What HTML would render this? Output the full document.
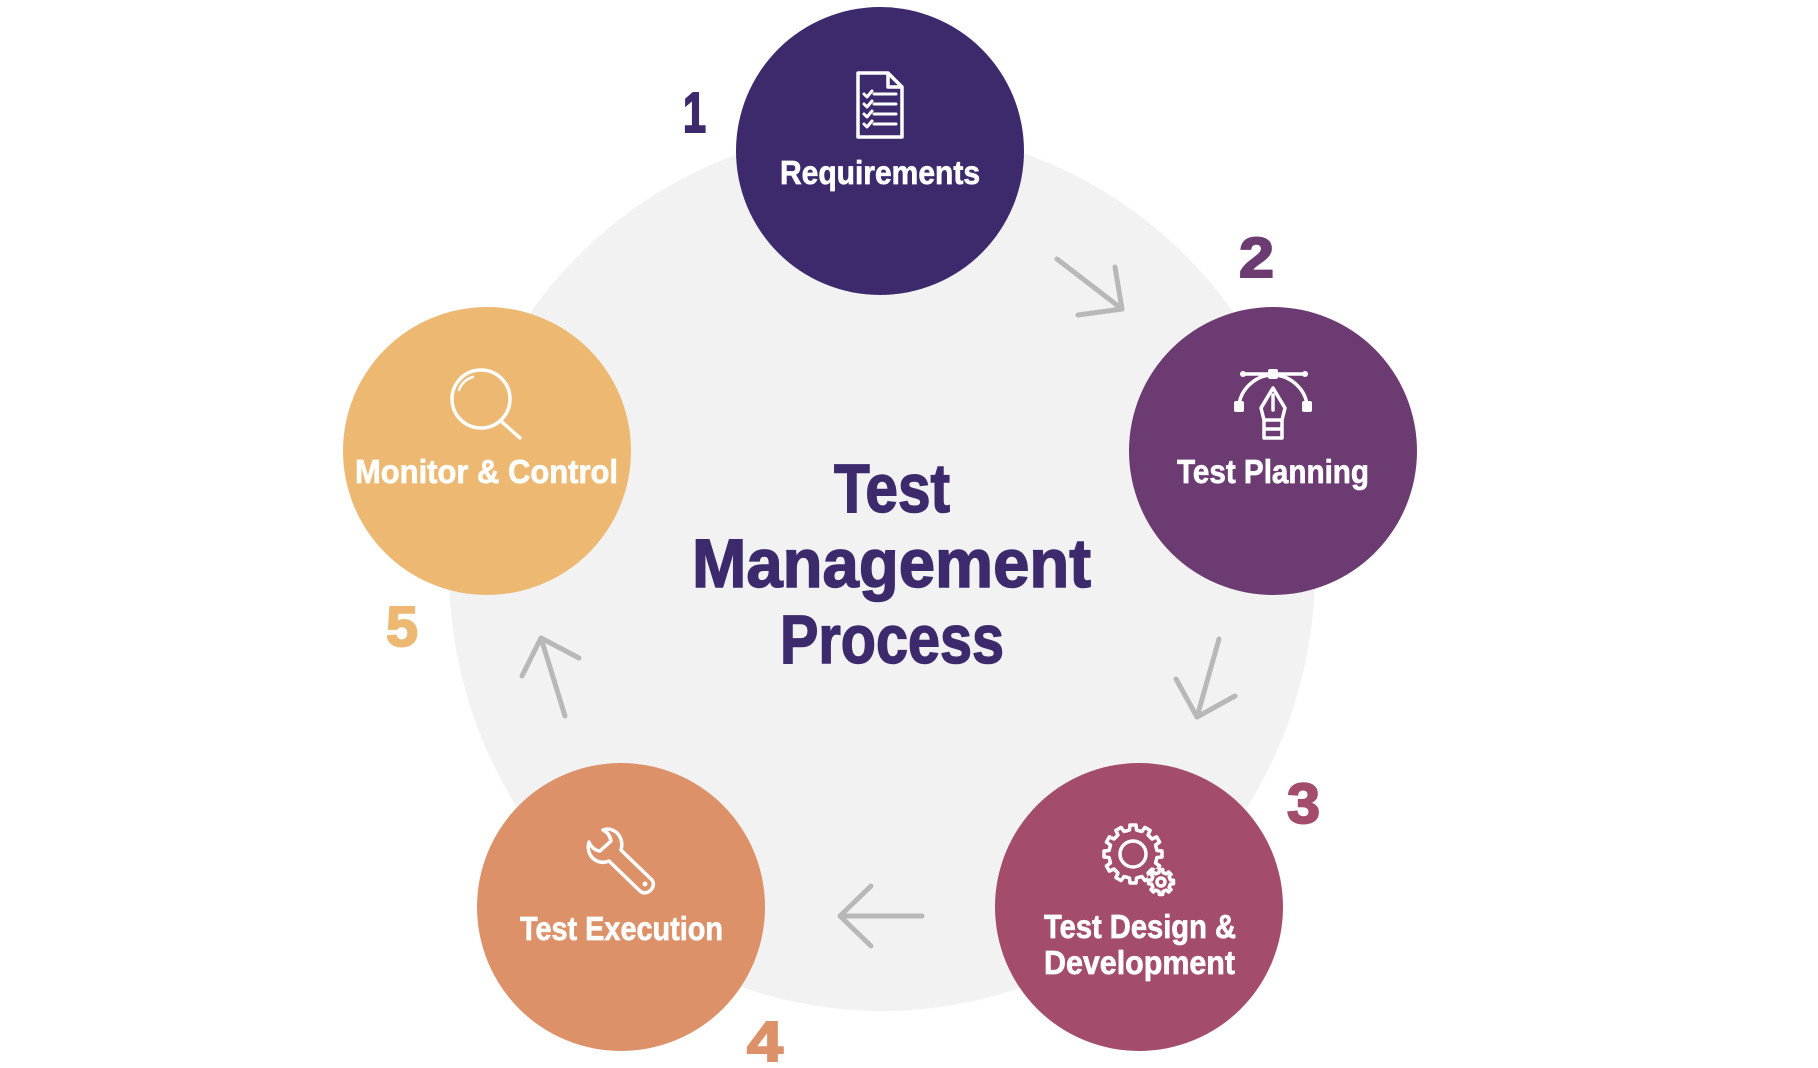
<!DOCTYPE html>
<html>
<head>
<meta charset="utf-8">
<style>
html,body{margin:0;padding:0;background:#fff;width:1818px;height:1068px;overflow:hidden}
svg{display:block}
text{font-family:"Liberation Sans",sans-serif;font-weight:700}
.l{fill:#fff;font-size:33px;stroke:#fff;stroke-width:.7px}
.h{fill:#3d2a6d;font-size:69px;stroke:#3d2a6d;stroke-width:1.5px}
.n{font-size:57px;stroke-width:2px}
.a{fill:none;stroke:#b8b8b8;stroke-width:5;stroke-linecap:round;stroke-linejoin:round}
.i{fill:none;stroke:#fff;stroke-width:3.5;stroke-linecap:round;stroke-linejoin:round}
</style>
</head>
<body>
<svg width="1818" height="1068" viewBox="0 0 1818 1068" xmlns="http://www.w3.org/2000/svg">
<defs>
<path id="t" d="M23.2,-6.2L24,-3.5L29,-3L29,3L24,3.5L23.2,6.2"/>
<path id="s" d="M8.8,-3.6L9.5,-2L12.5,-1.7L12.5,1.7L9.5,2L8.8,3.6"/>
</defs>
<rect width="1818" height="1068" fill="#fff"/>
<ellipse cx="882" cy="570" rx="433" ry="441" fill="#f2f2f2"/>

<circle cx="880" cy="151" r="144" fill="#3d2a6d"/>
<circle cx="1273" cy="451" r="144" fill="#6c3b72"/>
<circle cx="1139" cy="907" r="144" fill="#a34c6b"/>
<circle cx="621" cy="907" r="144" fill="#dc9168"/>
<circle cx="487" cy="451" r="144" fill="#edb972"/>

<!-- arrows -->
<path class="a" d="M1057,259L1122,309M1115,267L1122,309L1078,315"/>
<path class="a" d="M1219,639L1197,717M1176,679L1197,717L1235,696"/>
<path class="a" d="M922,916L840,916M871,886L840,916L871,946"/>
<path class="a" d="M565,716L541,638M522,676L541,638L579,658"/>

<!-- numbers -->
<text class="n" x="683" y="132" fill="#3d2a6d" stroke="#3d2a6d" textLength="23" lengthAdjust="spacingAndGlyphs">1</text>
<text class="n" x="1239" y="277" fill="#6c3b72" stroke="#6c3b72" textLength="35" lengthAdjust="spacingAndGlyphs">2</text>
<text class="n" x="1287" y="823" fill="#a34c6b" stroke="#a34c6b" textLength="33" lengthAdjust="spacingAndGlyphs">3</text>
<text class="n" x="747" y="1061" fill="#dc9168" stroke="#dc9168" textLength="36" lengthAdjust="spacingAndGlyphs">4</text>
<text class="n" x="386" y="646" fill="#edb972" stroke="#edb972" textLength="32" lengthAdjust="spacingAndGlyphs">5</text>

<!-- heading -->
<text class="h" x="834" y="512" textLength="116" lengthAdjust="spacingAndGlyphs">Test</text>
<text class="h" x="692" y="587" textLength="399" lengthAdjust="spacingAndGlyphs">Management</text>
<text class="h" x="780" y="663" textLength="224" lengthAdjust="spacingAndGlyphs">Process</text>

<!-- labels -->
<text class="l" x="780" y="184" textLength="200" lengthAdjust="spacingAndGlyphs">Requirements</text>
<text class="l" x="1177" y="483" textLength="192" lengthAdjust="spacingAndGlyphs">Test Planning</text>
<text class="l" x="1044" y="938" textLength="192" lengthAdjust="spacingAndGlyphs">Test Design &amp;</text>
<text class="l" x="1044" y="974" textLength="191" lengthAdjust="spacingAndGlyphs">Development</text>
<text class="l" x="520" y="940" textLength="203" lengthAdjust="spacingAndGlyphs">Test Execution</text>
<text class="l" x="355" y="483" textLength="263" lengthAdjust="spacingAndGlyphs">Monitor &amp; Control</text>

<!-- document icon -->
<path class="i" stroke-linejoin="miter" d="M858,73H888L902,87V137H858ZM888,73V87H902"/>
<path class="i" style="stroke-width:3" d="M874,94H896M874,104H896M874,114H896M874,124H896"/>
<path class="i" style="stroke-width:3" d="M864,94L867,97L872,91M864,104L867,107L872,101M864,114L867,117L872,111M864,124L867,127L872,121"/>

<!-- pen tool icon -->
<path class="i" d="M1242,374H1305M1239,406C1240,390 1255,375 1273,375C1291,375 1306,390 1307,406"/>
<circle cx="1243" cy="374" r="3" fill="#fff"/><circle cx="1305" cy="374" r="3" fill="#fff"/>
<rect x="1268" y="369" width="10" height="10" rx="2" fill="#fff"/>
<rect x="1234" y="401" width="10" height="11" rx="2" fill="#fff"/>
<rect x="1302" y="401" width="10" height="11" rx="2" fill="#fff"/>
<path class="i" d="M1273,388L1261,408L1264,420H1282L1285,408ZM1273,395V410M1264,420V438H1282V420M1264,429H1282"/>

<!-- gear icon -->
<g class="i" transform="translate(1133,854)">
<use href="#t"/><use href="#t" transform="rotate(30)"/><use href="#t" transform="rotate(60)"/><use href="#t" transform="rotate(90)"/><use href="#t" transform="rotate(120)"/><use href="#t" transform="rotate(150)"/><use href="#t" transform="rotate(180)"/><use href="#t" transform="rotate(210)"/><use href="#t" transform="rotate(240)"/><use href="#t" transform="rotate(270)"/><use href="#t" transform="rotate(300)"/><use href="#t" transform="rotate(330)"/>
<circle r="13"/>
</g>
<circle cx="1161" cy="882" r="14" fill="#a34c6b"/>
<g class="i" transform="translate(1161,882)">
<use href="#s"/><use href="#s" transform="rotate(45)"/><use href="#s" transform="rotate(90)"/><use href="#s" transform="rotate(135)"/><use href="#s" transform="rotate(180)"/><use href="#s" transform="rotate(225)"/><use href="#s" transform="rotate(270)"/><use href="#s" transform="rotate(315)"/>
<circle r="4"/>
</g>

<!-- wrench icon -->
<path class="i" d="M603,830C613,826 625,836 621,850L652,880C657,887 647,897 640,891L609,861C598,866 585,856 589,842C591,848 597,851 600,851L611,841C610,835 607,832 603,830Z"/>
<circle cx="645" cy="884" r="2.5" fill="#fff"/>

<!-- magnifier icon -->
<circle class="i" cx="481" cy="399" r="29"/>
<path class="i" d="M502,422L520,438"/>
<path class="i" style="stroke-width:2.5" d="M459,390C461,384 466,379 473,377"/>
</svg>
</body>
</html>
